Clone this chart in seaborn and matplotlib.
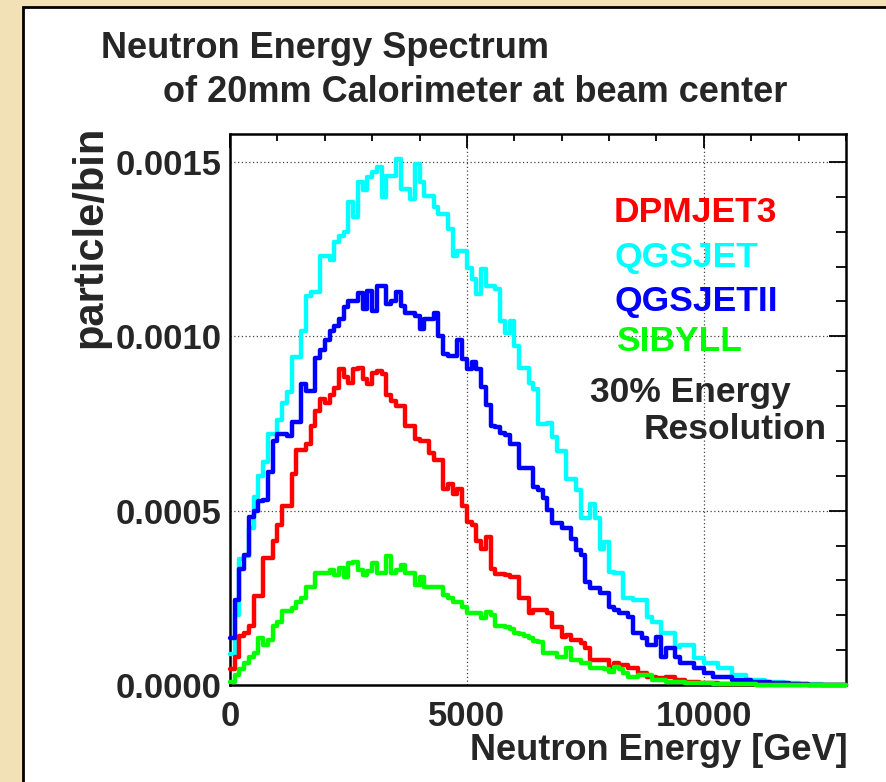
import numpy as np
import pandas as pd
import matplotlib
matplotlib.use("Agg")
import matplotlib.pyplot as plt
from matplotlib.patches import Rectangle
from matplotlib.ticker import MultipleLocator, FormatStrFormatter
import seaborn as sns

# ---------------- data (values in units of 1e-4 particle/bin, 100 GeV bins) ----------------
bin_width = 100.0
n_bins = 130
energy_edges = np.arange(n_bins + 1) * bin_width          # 0 ... 13000 GeV
energy_centers = energy_edges[:-1] + bin_width / 2

models = ["DPMJET3", "QGSJET", "QGSJETII", "SIBYLL"]

dpmjet3 = [
    0.45, 0.8, 1.4, 1.5, 1.7, 2.55, 2.55, 3.64, 3.64, 4.12,
    4.6, 5.14, 5.14, 6.04, 6.74, 6.74, 6.9, 7.42, 7.86, 8.19,
    8.1, 8.33, 8.52, 9.05, 8.82, 8.67, 9.05, 9.1, 8.77, 8.62,
    8.96, 9.0, 8.93, 8.33, 8.14, 7.99, 7.99, 7.44, 7.44, 7.05,
    7.0, 7.0, 6.65, 6.46, 6.46, 5.62, 5.76, 5.47, 5.62, 5.12,
    4.68, 4.58, 4.13, 3.89, 4.23, 3.34, 3.19, 3.19, 3.14, 3.09,
    3.09, 2.5, 2.5, 2.06, 2.15, 2.15, 2.15, 2.06, 1.67, 1.67,
    1.39, 1.44, 1.29, 1.29, 1.2, 1.05, 0.72, 0.72, 0.72, 0.72,
    0.53, 0.62, 0.57, 0.57, 0.48, 0.48, 0.33, 0.33, 0.24, 0.24,
    0.19, 0.19, 0.24, 0.24, 0.14, 0.14, 0.10, 0.10, 0.10, 0.05,
    0.05, 0.05, 0.05, 0.03, 0.03, 0.03, 0.03, 0.02, 0.02, 0.02,
    0.02, 0.01, 0.01, 0.01, 0.01, 0.0, 0.0, 0.0, 0.0, 0.0,
    0.0, 0.0, 0.0, 0.0, 0.0, 0.0, 0.0, 0.0, 0.0, 0.0,
]

qgsjet = [
    0.9, 2.0, 3.6, 3.7, 4.5, 5.4, 6.0, 6.4, 7.2, 7.2,
    7.6, 8.1, 8.4, 9.4, 9.4, 10.15, 11.16, 11.26, 11.26, 12.3,
    12.3, 12.2, 12.7, 12.88, 12.98, 13.85, 13.42, 14.42, 14.18, 14.57,
    14.7, 14.85, 14.0, 14.6, 14.6, 15.09, 14.22, 14.22, 13.94, 14.94,
    14.42, 14.03, 14.03, 13.7, 13.5, 13.5, 13.08, 12.3, 12.45, 12.45,
    11.97, 11.64, 11.2, 11.93, 11.45, 11.45, 11.35, 10.44, 10.1, 10.44,
    9.72, 9.1, 9.1, 8.67, 8.48, 7.47, 7.47, 7.5, 7.1, 6.7,
    6.7, 5.9, 5.9, 5.6, 4.8, 4.8, 5.2, 4.8, 3.9, 4.1,
    3.25, 3.2, 3.2, 2.5, 2.5, 2.45, 2.45, 2.45, 1.95, 1.8,
    1.8, 1.5, 1.5, 1.5, 1.1, 1.15, 1.15, 1.15, 0.76, 0.76,
    0.62, 0.62, 0.62, 0.48, 0.48, 0.48, 0.29, 0.29, 0.29, 0.14,
    0.14, 0.14, 0.14, 0.10, 0.10, 0.10, 0.10, 0.07, 0.07, 0.07,
    0.03, 0.03, 0.03, 0.03, 0.02, 0.01, 0.01, 0.0, 0.0, 0.0,
]

qgsjetii = [
    1.36, 2.45, 3.34, 3.74, 4.82, 5.0, 5.27, 5.3, 6.11, 7.0,
    7.2, 7.2, 7.15, 7.54, 7.54, 8.63, 8.43, 8.43, 9.39, 9.6,
    9.9, 10.15, 10.3, 10.49, 10.83, 11.0, 11.0, 11.24, 10.78, 11.3,
    10.73, 11.45, 11.45, 10.92, 11.0, 11.26, 10.87, 10.68, 10.68, 10.58,
    10.2, 10.49, 10.49, 10.68, 10.0, 9.48, 9.43, 9.43, 9.9, 9.34,
    9.05, 9.25, 9.05, 8.55, 8.04, 7.44, 7.4, 7.22, 7.17, 6.9,
    6.9, 6.21, 6.21, 6.21, 5.69, 5.6, 5.35, 5.02, 4.64, 4.64,
    4.49, 4.49, 4.2, 3.87, 3.73, 2.96, 2.77, 2.77, 2.63, 2.63,
    2.25, 2.15, 2.06, 2.06, 1.96, 1.48, 1.48, 1.34, 1.15, 1.15,
    1.39, 0.81, 1.05, 1.05, 0.81, 0.62, 0.62, 0.62, 0.48, 0.48,
    0.33, 0.33, 0.24, 0.24, 0.24, 0.24, 0.14, 0.14, 0.14, 0.14,
    0.10, 0.10, 0.10, 0.10, 0.05, 0.05, 0.05, 0.05, 0.02, 0.02,
    0.02, 0.02, 0.01, 0.01, 0.01, 0.0, 0.0, 0.0, 0.0, 0.0,
]

sibyll = [
    0.1, 0.29, 0.45, 0.62, 0.81, 0.91, 1.34, 1.15, 1.29, 1.68,
    1.82, 2.11, 2.11, 2.2, 2.39, 2.49, 2.82, 2.82, 3.2, 3.2,
    3.2, 3.3, 3.16, 3.35, 3.11, 3.5, 3.54, 3.3, 3.16, 3.26,
    3.5, 3.2, 3.2, 3.69, 3.2, 3.3, 3.45, 3.2, 3.2, 2.87,
    3.11, 2.82, 2.82, 2.82, 2.82, 2.59, 2.49, 2.39, 2.39, 2.25,
    2.06, 2.06, 2.06, 1.92, 2.1, 2.0, 1.68, 1.68, 1.65, 1.6,
    1.5, 1.45, 1.4, 1.35, 1.25, 1.24, 0.91, 0.91, 0.91, 0.81,
    0.81, 1.05, 0.72, 0.72, 0.62, 0.62, 0.48, 0.48, 0.48, 0.45,
    0.38, 0.53, 0.45, 0.33, 0.24, 0.24, 0.29, 0.29, 0.29, 0.14,
    0.14, 0.14, 0.10, 0.10, 0.10, 0.10, 0.05, 0.05, 0.05, 0.05,
    0.05, 0.05, 0.02, 0.02, 0.02, 0.02, 0.02, 0.02, 0.02, 0.02,
    0.02, 0.01, 0.01, 0.01, 0.01, 0.01, 0.0, 0.0, 0.0, 0.0,
    0.0, 0.0, 0.0, 0.0, 0.0, 0.0, 0.0, 0.0, 0.0, 0.0,
]

unit = 1e-4
series = {"DPMJET3": dpmjet3, "QGSJET": qgsjet, "QGSJETII": qgsjetii, "SIBYLL": sibyll}
colors = {"DPMJET3": "#ff0000", "QGSJET": "#00ffff", "QGSJETII": "#0000ff", "SIBYLL": "#00ff00"}
draw_order = ["QGSJET", "QGSJETII", "DPMJET3", "SIBYLL"]

title_lines = ["Neutron Energy Spectrum", "of 20mm Calorimeter at beam center"]
x_label = "Neutron Energy [GeV]"
y_label = "particle/bin"
note_lines = ["30% Energy", "Resolution"]

df = pd.concat(
    [pd.DataFrame({"energy": energy_centers, "value": np.asarray(series[m]) * unit, "model": m})
     for m in models],
    ignore_index=True,
)

# ---------------- style ----------------
sns.set_style("white")
plt.rcParams["font.family"] = ["Liberation Sans", "DejaVu Sans"]
plt.rcParams["font.weight"] = "bold"
plt.rcParams["axes.labelweight"] = "bold"

W, H = 886, 782
fig = plt.figure(figsize=(W / 100, H / 100), dpi=100)
fig.patch.set_facecolor("#f2e1b6")


def fx(px):
    return px / W


def fy(py):
    return 1 - py / H


# white canvas with black frame (ROOT pad)
panel = Rectangle((fx(22.7), -0.05), 1.2, fy(6.7) + 0.05, transform=fig.transFigure,
                  facecolor="white", edgecolor="black", linewidth=2.0, zorder=-5)
fig.patches.append(panel)

ax = fig.add_axes([fx(230), fy(685), (846 - 230) / W, (685 - 134) / H])
ax.set_facecolor("white")

for m in draw_order:
    sns.histplot(data=df[df["model"] == m], x="energy", weights="value",
                 binwidth=bin_width, binrange=(energy_edges[0], energy_edges[-1]),
                 element="step", fill=False, color=colors[m], linewidth=3.2,
                 zorder=3, clip_on=False, ax=ax)

ax.set_xlim(0, 13000)
ax.set_ylim(0, 0.00158)

ax.xaxis.set_major_locator(MultipleLocator(5000))
ax.xaxis.set_minor_locator(MultipleLocator(1000))
ax.yaxis.set_major_locator(MultipleLocator(0.0005))
ax.yaxis.set_minor_locator(MultipleLocator(0.0001))
ax.yaxis.set_major_formatter(FormatStrFormatter("%.4f"))
ax.xaxis.set_major_formatter(FormatStrFormatter("%d"))

ax.tick_params(which="both", direction="in", top=True, right=True, width=1.3, color="black")
ax.tick_params(axis="y", which="major", length=12, labelsize=25, pad=6)
ax.tick_params(axis="y", which="minor", length=7)
ax.tick_params(axis="x", which="major", length=10, labelsize=25, pad=11)
ax.tick_params(axis="x", which="minor", length=5)
for lab in ax.get_xticklabels() + ax.get_yticklabels():
    lab.set_fontweight("bold")

ax.grid(True, which="major", linestyle=(0, (1, 2)), color="#444444", linewidth=0.9)
for s in ax.spines.values():
    s.set_linewidth(1.8)
    s.set_color("black")

ax.set_xlabel(x_label, fontsize=26, fontweight="bold", loc="right")
ax.xaxis.set_label_coords((848 - 230) / 616, (685 - 733) / 551)
ax.set_ylabel(y_label, fontsize=30, fontweight="bold", loc="top")
ax.yaxis.set_label_coords((110 - 230) / 616, (685 - 126) / 551)

# title (two lines, ROOT style)
fig.text(fx(101), fy(58), title_lines[0], ha="left", va="baseline", fontsize=26, fontweight="bold")
fig.text(fx(163), fy(102), title_lines[1], ha="left", va="baseline", fontsize=26, fontweight="bold")

# coloured model labels
label_pos = {"DPMJET3": (614, 222), "QGSJET": (614, 267), "QGSJETII": (614, 311), "SIBYLL": (616, 351)}
for m in models:
    x, y = label_pos[m]
    fig.text(fx(x), fy(y), m, color=colors[m], ha="left", va="baseline", fontsize=25.5, fontweight="bold")

fig.text(fx(590), fy(402), note_lines[0], ha="left", va="baseline", fontsize=25.5, fontweight="bold")
fig.text(fx(827), fy(439), note_lines[1], ha="right", va="baseline", fontsize=25.5, fontweight="bold")

fig.savefig("out.png", dpi=100, facecolor=fig.get_facecolor())
